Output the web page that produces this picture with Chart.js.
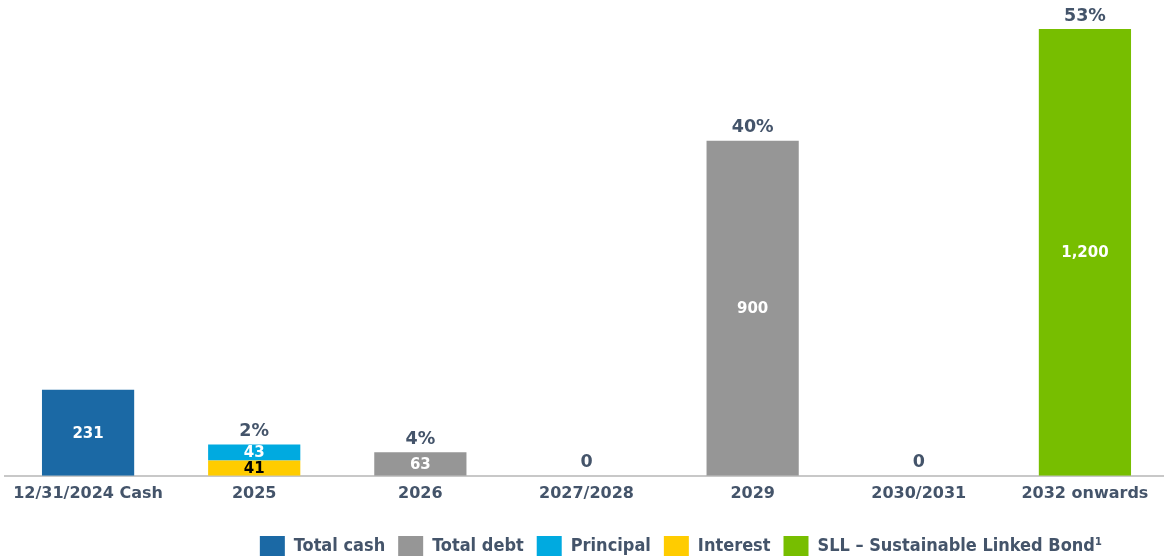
<!DOCTYPE html>
<html>
<head>
<meta charset="utf-8">
<script src="https://cdn.jsdelivr.net/npm/chart.js@4.4.1/dist/chart.umd.min.js"></script>
<style>
  html, body { margin: 0; padding: 0; background: #fff; overflow: hidden; }
  #wrap { width: 1168px; height: 559px; position: relative; }
</style>
</head>
<body>
<div id="wrap"><canvas id="maturity"></canvas></div>
<script>
const categories = ['12/31/2024 Cash', '2025', '2026', '2027/2028', '2029', '2030/2031', '2032 onwards'];
const totalCash = [231, null, null, null, null, null, null];
const totalDebt = [null, null, 63, 0, 900, 0, null];
const interest = [null, 41, null, null, null, null, null];
const principal = [null, 43, null, null, null, null, null];
const sll = [null, null, null, null, null, null, 1200];
const topLabels = ['', '2%', '4%', '0', '40%', '0', '53%'];

const TEXT = '#44546A';
const legendRank = [0, 1, 3, 2, 4];

let maturity = document.getElementById('maturity');

// labels inside the bars + labels on top of each column
const barLabels = {
  id: 'barLabels',
  afterDatasetsDraw(chart) {
    const ctx = chart.ctx;
    const y = chart.scales.y;
    ctx.save();
    ctx.font = 'bold 15px "DejaVu Sans"';
    ctx.textAlign = 'center';
    ctx.textBaseline = 'middle';
    chart.data.datasets.forEach((ds, i) => {
      const meta = chart.getDatasetMeta(i);
      meta.data.forEach((bar, j) => {
        const v = ds.data[j];
        if (!v) return;
        const c = bar.getCenterPoint();
        ctx.fillStyle = ds.labelColor;
        ctx.fillText(v.toLocaleString('en-US'), c.x, c.y + 1);
      });
    });
    ctx.font = 'bold 17.5px "DejaVu Sans"';
    ctx.fillStyle = TEXT;
    categories.forEach((cat, j) => {
      if (!topLabels[j]) return;
      let total = 0;
      chart.data.datasets.forEach(ds => { total += ds.data[j] || 0; });
      const x = chart.scales.x.getPixelForValue(j);
      ctx.fillText(topLabels[j], x, y.getPixelForValue(total) - 13);
    });
    ctx.restore();
  }
};

// push the legend to where it sits in the original slide
const legendShift = {
  id: 'legendShift',
  afterLayout(chart) {
    const lg = chart.legend;
    lg.right = 1102 + 13;
    lg.top += 20;
    lg.bottom += 20;
  }
};

const dataMaturity = {
  labels: categories,
  datasets: [
    { label: 'Total cash', data: totalCash, backgroundColor: '#1B69A5', labelColor: '#fff' },
    { label: 'Total debt', data: totalDebt, backgroundColor: '#969696', labelColor: '#fff' },
    { label: 'Interest', data: interest, backgroundColor: '#FFCC00', labelColor: '#000' },
    { label: 'Principal', data: principal, backgroundColor: '#00AAE0', labelColor: '#fff' },
    { label: 'SLL \u2013 Sustainable Linked Bond\u00b9', data: sll, backgroundColor: '#77BE00', labelColor: '#fff' },
  ]
};

const configMaturity = {
  type: 'bar',
  data: dataMaturity,
  options: {
    responsive: true,
    maintainAspectRatio: false,
    animation: false,
    categoryPercentage: 1,
    barPercentage: 0.555,
    layout: { padding: { top: 29, left: 5, right: 0, bottom: 13 } },
    scales: {
      x: {
        stacked: true,
        grid: { display: false },
        border: { color: '#C8C8C8', width: 2 },
        ticks: { color: TEXT, font: { family: 'DejaVu Sans', size: 16, weight: 'bold' }, padding: 0 }
      },
      y: {
        stacked: true,
        display: false,
        min: 0,
        max: 1200
      }
    },
    plugins: {
      tooltip: { enabled: false },
      legend: {
        position: 'bottom',
        align: 'end',
        labels: {
          boxWidth: 25,
          boxHeight: 20,
          padding: 13,
          color: TEXT,
          font: { family: 'DejaVu Sans Condensed', size: 18, weight: 'bold' },
          sort: (a, b) => legendRank[a.datasetIndex] - legendRank[b.datasetIndex]
        }
      }
    }
  },
  plugins: [barLabels, legendShift]
};

let maturityGraph = new Chart(maturity, configMaturity);
</script>
</body>
</html>
